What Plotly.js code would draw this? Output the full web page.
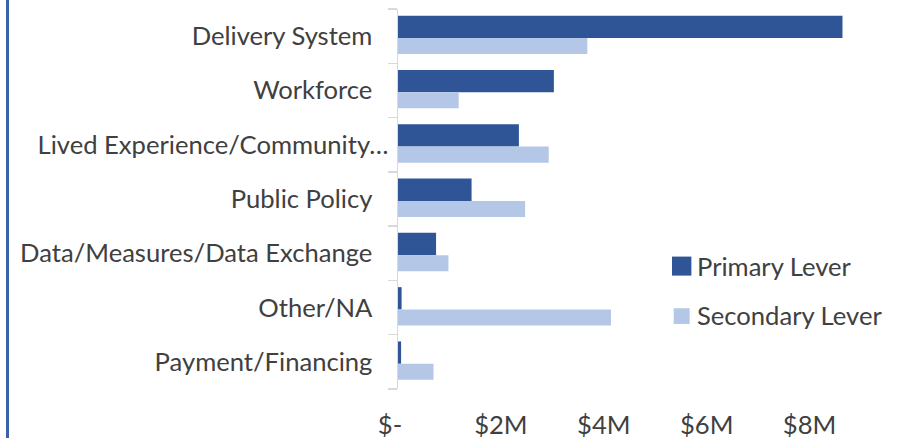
<!DOCTYPE html>
<html><head><meta charset="utf-8">
<script src="https://cdn.plot.ly/plotly-3.0.1.min.js"></script>
<style>
html,body{margin:0;padding:0;background:#fff;overflow:hidden;}
#chart{width:905px;height:438px;position:absolute;left:0;top:0;}
#frame{position:absolute;left:6px;top:0;width:3px;height:438px;background:#3A63A8;}
</style>
</head><body><div id="chart"></div><div id="frame"></div>
<script>
const categories = ['Delivery System','Workforce','Lived Experience/Community…','Public Policy','Data/Measures/Data Exchange','Other/NA','Payment/Financing'];
const primaryValues = [8.64e6, 3.03e6, 2.35e6, 1.43e6, 0.74e6, 0.07e6, 0.06e6];
const secondaryValues = [3.68e6, 1.18e6, 2.93e6, 2.47e6, 0.98e6, 4.14e6, 0.69e6];
const seriesNames = ['Primary Lever','Secondary Lever'];
const seriesColors = ['#2F5597','#B4C7E7'];
const xTickValues = [0, 2e6, 4e6, 6e6, 8e6];
const xTickLabels = ['$-\u2002\u2009', '$2M', '$4M', '$6M', '$8M'];
// truncated label overhangs the others (as in the source), others get a right pad
const yTickLabels = categories.map(c => c.endsWith('…') ? c : c + '\u2002\u2009');

const font = {family: 'Lato, "Open Sans", sans-serif', size: 25.6, color: '#404040'};

const traces = [
  {type:'bar', orientation:'h', name: seriesNames[0], y: categories, x: primaryValues,
   marker:{color: seriesColors[0], line:{width:0}}, offset:-0.376, width:0.411, showlegend:false},
  {type:'bar', orientation:'h', name: seriesNames[1], y: categories, x: secondaryValues,
   marker:{color: seriesColors[1], line:{width:0}}, offset:0.035, width:0.295, showlegend:false}
];

const W = 905, H = 438;
const plotL = 398, plotR = 861.5, plotT = 9.3, plotB = 389;
const px = x => (x - plotL) / (plotR - plotL);
const py = y => (plotB - y) / (plotB - plotT);

// legend drawn as layout decorations
const legendItems = [
  {box:[672.3, 256.7, 691.7, 275.7], textX: 695.5, textY: 266.5},
  {box:[674, 308.3, 690, 324], textX: 695.5, textY: 315.5}
];
const shapes = legendItems.map((it, i) => ({
  type:'rect', xref:'paper', yref:'paper',
  x0: px(it.box[0]), x1: px(it.box[2]), y0: py(it.box[3]), y1: py(it.box[1]),
  fillcolor: seriesColors[i], line:{width:0}
}));
const annotations = legendItems.map((it, i) => ({
  xref:'paper', yref:'paper', x: px(it.textX), y: py(it.textY), xanchor:'left', yanchor:'middle',
  text: seriesNames[i], showarrow:false, font: font
}));

const layout = {
  width: W, height: H,
  margin: {l: plotL, r: W - plotR, t: plotT, b: H - plotB, pad: 0},
  paper_bgcolor:'#fff', plot_bgcolor:'#fff',
  font: font,
  barmode: 'overlay',
  showlegend: false,
  shapes: shapes,
  annotations: annotations,
  xaxis: {range:[0, 9e6], tickvals: xTickValues, ticktext: xTickLabels, showgrid:false, zeroline:false,
          showline:false, ticks:'', tickfont: font, ticklabelstandoff: 18, fixedrange:true},
  yaxis: {type:'category', autorange:'reversed', tickvals: categories, ticktext: yTickLabels,
          showgrid:false, zeroline:false, showline:true,
          linecolor:'#D9D9D9', linewidth:1.5, ticks:'outside', tickson:'boundaries', ticklen:9,
          tickcolor:'#D9D9D9', tickwidth:1.5, tickfont: font, ticklabelstandoff: 3, fixedrange:true}
};

Plotly.newPlot('chart', traces, layout, {displayModeBar:false, staticPlot:true});
</script>
</body></html>
